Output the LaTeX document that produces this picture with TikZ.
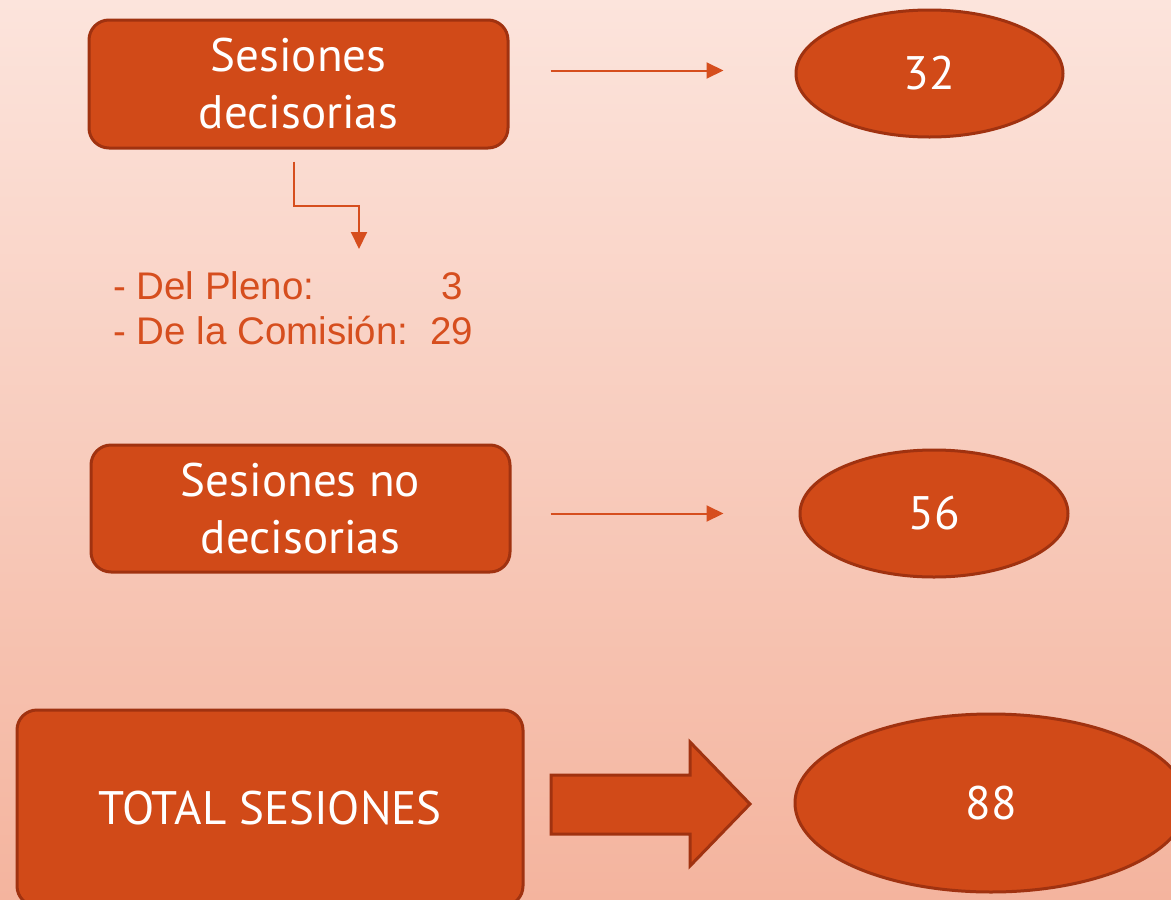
\documentclass[tikz,border=0pt]{standalone}
\usepackage{fontspec}
\setmainfont{PT Sans}
\newfontfamily\listfont{Liberation Sans}
\usetikzlibrary{arrows.meta,shapes.geometric,calc}
\definecolor{bgtop}{RGB}{252,228,220}
\definecolor{bgbot}{RGB}{244,180,158}
\definecolor{boxfill}{RGB}{209,74,24}
\definecolor{boxline}{RGB}{160,50,16}
\definecolor{arrcol}{RGB}{214,78,30}
\tikzset{
  box/.style={draw=boxline, line width=3pt, fill=boxfill, rounded corners=20pt, text=white, align=center, inner sep=0pt},
  oval/.style={draw=boxline, line width=3pt, fill=boxfill, ellipse, text=white, inner sep=0pt},
  thinarr/.style={draw=arrcol, line width=2pt, -{Triangle[length=17pt,width=16pt]}},
  boxtext/.style={font=\fontsize{47}{57}\selectfont},
}
\begin{document}
\begin{tikzpicture}[x=1pt,y=-1pt]
\shade[top color=bgtop, bottom color=bgbot] (0,0) rectangle (1171,900);
\useasboundingbox (0,0) rectangle (1171,900);

\node[box, boxtext, minimum width=419pt, minimum height=128pt] (b1) at (298.5,84) {Sesiones\\decisorias};
\node[oval, minimum width=267pt, minimum height=127pt, font=\fontsize{47}{57}\selectfont] (e1) at (929.5,73.5) {32};

\node[box, boxtext, minimum width=419pt, minimum height=127pt] (b2) at (300.5,508.5) {Sesiones no\\decisorias};
\node[oval, minimum width=268pt, minimum height=127pt, font=\fontsize{47}{57}\selectfont] (e2) at (934,513.5) {56};

\node[box, minimum width=506pt, minimum height=196pt, font=\fontsize{47}{57}\selectfont] (b3) at (270,808) {TOTAL SESIONES};
\node[oval, minimum width=392pt, minimum height=178pt, font=\fontsize{47}{57}\selectfont] (e3) at (991,803) {88};

\node[anchor=north west, inner sep=0pt, text=arrcol, align=left, font=\listfont\fontsize{38.5}{45}\selectfont] (lista) at (113,271)
  {\makebox[328pt][l]{- Del Pleno:}3\\- De la Comisión:\hspace{22pt}29};

\draw[thinarr] ([xshift=41pt,yshift=3pt]b1.east |- e1.west) -- ([xshift=-71pt,yshift=3pt]e1.west);
\draw[thinarr] ([xshift=39pt]b2.east |- e2.west) -- ([xshift=-75pt]e2.west);

\coordinate (elbowA) at ($(b1.south)+(-4.5,12)$);
\coordinate (elbowB) at (359,206);
\draw[thinarr, shorten >=22pt] (elbowA) -- (elbowA |- elbowB) -- (elbowB) -- (elbowB |- lista.north);

\draw[draw=boxline, line width=3pt, fill=boxfill, line join=miter]
  (551,775) -- (690,775) -- (690,742) -- (750,804) -- (690,866) -- (690,834) -- (551,834) -- cycle;
\end{tikzpicture}
\end{document}
